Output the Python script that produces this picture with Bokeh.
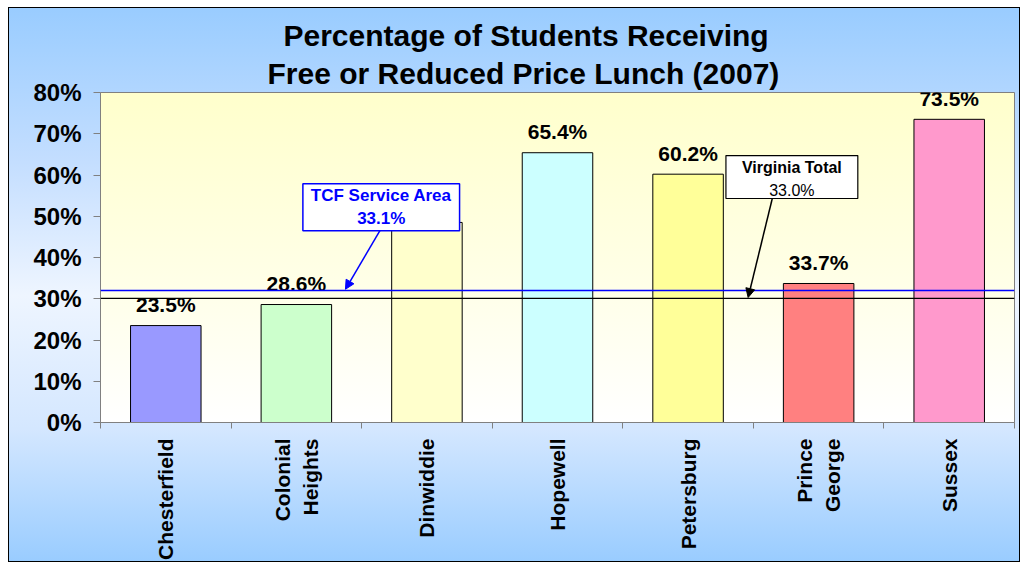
import math
from bokeh.plotting import figure
from bokeh.models import (FixedTicker, PrintfTickFormatter, Span, BoxAnnotation,
                          Label, Arrow, NormalHead, Range1d, ColumnDataSource, Title)
from bokeh.embed import file_html
from bokeh.resources import INLINE
from bokeh.core.properties import value

# ---------------- data ----------------
categories = ["Chesterfield", "Colonial\nHeights", "Dinwiddie", "Hopewell",
              "Petersburg", "Prince\nGeorge", "Sussex"]
percent = [23.5, 28.6, 48.5, 65.4, 60.2, 33.7, 73.5]
bar_colors = ["#9999FF", "#CCFFCC", "#FFFFCC", "#CCFFFF", "#FFFF99", "#FF8080", "#FF99CC"]
y_ticks = [0, 10, 20, 30, 40, 50, 60, 70, 80]

tcf_label = "33.1%"
va_label = "33.0%"
tcf_line_level = 32.0   # where the reference draws the TCF line
va_line_level = 30.1    # where the reference draws the Virginia line

title_line1 = "Percentage of Students Receiving"
title_line2 = "Free or Reduced Price Lunch (2007)"

FONT = "Liberation Sans"

W, H = 1012, 555
BL, BR, BT, BB = 92, 6, 85, 140

n = len(categories)
x_centers = [i + 0.5 for i in range(n)]
labels = ["%.1f%%" % v for v in percent]

src = ColumnDataSource(dict(x=x_centers, top=percent, color=bar_colors, label=labels))

p = figure(width=W, height=H, output_backend="svg", toolbar_location=None,
           x_range=Range1d(0, n), y_range=Range1d(0, 80),
           min_border_left=BL, min_border_right=BR, min_border_top=BT, min_border_bottom=BB)

fw, fh = W - BL - BR, H - BT - BB
p.border_fill_alpha = 0
p.background_fill_alpha = 0
p.styles = {
    "margin-left": "8px",
    "margin-top": "7px",
    "background": ("linear-gradient(to bottom, #FFFFCC 0%%, #FFFFE6 55%%, #FFFFFF 100%%) %dpx %dpx / %dpx %dpx no-repeat, "
                   "linear-gradient(to bottom, #99CCFF 0%%, #C4DEFF 28%%, #EEF5FF 52%%, #D4E7FF 76%%, #99CCFF 100%%)")
                  % (BL, BT, fw, fh),
    "outline": "1px solid black",
    "outline-offset": "-1px",
}
p.outline_line_color = "#808080"
p.outline_line_width = 1
p.grid.visible = False

# titles (second line added first so it sits nearest the frame)
p.add_layout(Title(text=title_line2, align="left", offset=167, text_font=FONT,
                   text_font_size="30px", text_font_style="bold", text_color="black",
                   standoff=6), "above")
p.add_layout(Title(text=title_line1, align="left", offset=183, text_font=FONT,
                   text_font_size="30px", text_font_style="bold", text_color="black",
                   standoff=0), "above")

# bars
p.vbar(x="x", top="top", width=0.54, source=src, fill_color="color",
       line_color="black", line_width=1)

# reference lines
p.add_layout(Span(location=tcf_line_level, dimension="width", line_color="#0000FF", line_width=1.5))
p.add_layout(Span(location=va_line_level, dimension="width", line_color="black", line_width=1.2))

# value labels
p.text(x="x", y="top", text="label", source=src, text_align="center",
       text_baseline="alphabetic", y_offset=-21, text_font=value(FONT),
       text_font_size="21px", text_font_style="bold", text_color="black")

# callout: TCF Service Area
p.add_layout(BoxAnnotation(left=1.55, right=2.75, bottom=46.5, top=57.9,
                           fill_color="white", fill_alpha=1, line_color="#0000FF",
                           line_width=1.5, line_alpha=1))
p.add_layout(Label(x=2.15, y=55.0, text="TCF Service Area", text_align="center",
                   text_baseline="middle", text_font=FONT, text_font_size="17px",
                   text_font_style="bold", text_color="#0000FF"))
p.add_layout(Label(x=2.15, y=49.4, text=tcf_label, text_align="center",
                   text_baseline="middle", text_font=FONT, text_font_size="17px",
                   text_font_style="bold", text_color="#0000FF"))
p.add_layout(Arrow(x_start=2.14, y_start=46.5, x_end=1.876, y_end=tcf_line_level + 0.3,
                   line_color="#0000FF", line_width=1.5,
                   end=NormalHead(size=9, fill_color="#0000FF", line_color="#0000FF")))

# callout: Virginia Total
p.add_layout(BoxAnnotation(left=4.79, right=5.80, bottom=54.3, top=64.7,
                           fill_color="white", fill_alpha=1, line_color="black",
                           line_width=1.2, line_alpha=1))
p.add_layout(Label(x=5.295, y=61.8, text="Virginia Total", text_align="center",
                   text_baseline="middle", text_font=FONT, text_font_size="16px",
                   text_font_style="bold", text_color="black"))
p.add_layout(Label(x=5.295, y=56.3, text=va_label, text_align="center",
                   text_baseline="middle", text_font=FONT, text_font_size="16px",
                   text_color="black"))
p.add_layout(Arrow(x_start=5.145, y_start=54.3, x_end=4.96, y_end=va_line_level + 0.2,
                   line_color="black", line_width=1.5,
                   end=NormalHead(size=9, fill_color="black", line_color="black")))

# y axis
p.yaxis.ticker = FixedTicker(ticks=y_ticks)
p.yaxis.formatter = PrintfTickFormatter(format="%d%%")
p.yaxis.major_label_text_font = FONT
p.yaxis.major_label_text_font_size = "24px"
p.yaxis.major_label_text_font_style = "bold"
p.yaxis.major_label_text_color = "black"
p.yaxis.axis_line_color = "#808080"
p.yaxis.major_tick_line_color = "#808080"
p.yaxis.major_tick_in = 0
p.yaxis.major_tick_out = 7
p.yaxis.minor_tick_line_color = None
p.yaxis.major_label_standoff = 12

# x axis
p.xaxis.ticker = FixedTicker(ticks=x_centers, minor_ticks=list(range(n + 1)))
p.xaxis.major_label_overrides = {x: c for x, c in zip(x_centers, categories)}
p.xaxis.major_label_orientation = math.pi / 2
p.xaxis.major_label_text_font = FONT
p.xaxis.major_label_text_font_size = "21px"
p.xaxis.major_label_text_font_style = "bold"
p.xaxis.major_label_text_color = "black"
p.xaxis.axis_line_color = "#808080"
p.xaxis.major_tick_line_color = None
p.xaxis.major_tick_in = 0
p.xaxis.major_tick_out = 0
p.xaxis.minor_tick_line_color = "#808080"
p.xaxis.minor_tick_in = 0
p.xaxis.minor_tick_out = 6
p.xaxis.major_label_standoff = 10

open("out.html", "w").write(file_html(p, INLINE))
